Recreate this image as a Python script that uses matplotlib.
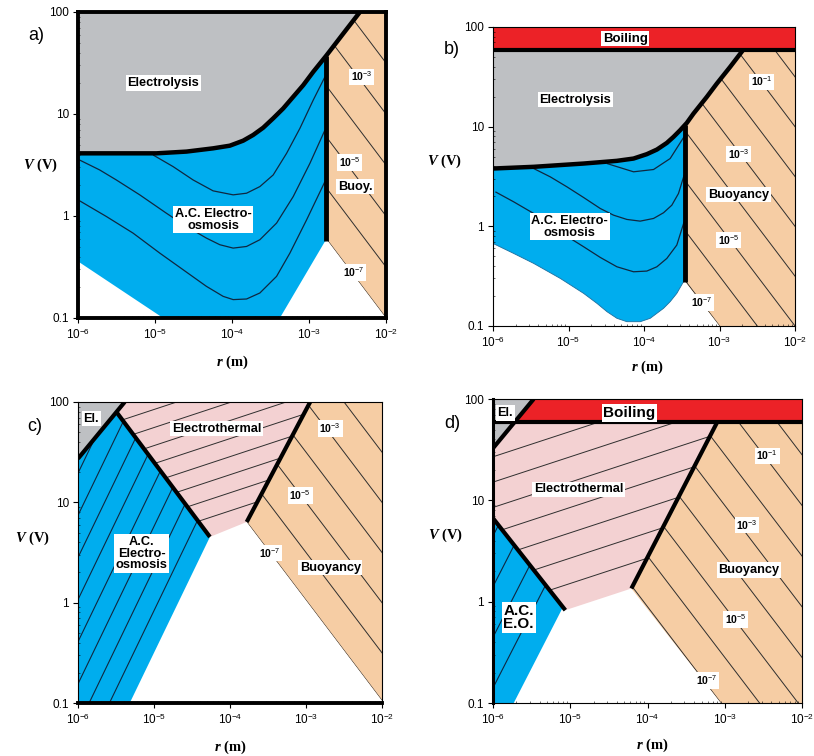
import numpy as np
import matplotlib
matplotlib.use('Agg')
import matplotlib.pyplot as plt
from matplotlib.patches import Polygon
from matplotlib.ticker import FixedLocator, LogLocator, NullFormatter

plt.rcParams['font.family'] = ['Liberation Sans', 'DejaVu Sans']
plt.rcParams['mathtext.fontset'] = 'custom'
plt.rcParams['mathtext.rm'] = 'Liberation Sans'
plt.rcParams['mathtext.it'] = 'Liberation Serif:italic:bold'
plt.rcParams['mathtext.bf'] = 'Liberation Sans:bold'

GRAY = '#BEC0C3'
BLUE = '#00ADEE'
PEACH = '#F6CDA4'
PINK = '#F3D1D2'
RED = '#EC2227'
HATCH = '#2e2e2e'
CONT = '#0f2740'

# ---------------- data: log10 r (m), log10 V (V) ----------------
x_ticks = [1e-6, 1e-5, 1e-4, 1e-3, 1e-2]
x_labels = ['$10^{-6}$', '$10^{-5}$', '$10^{-4}$', '$10^{-3}$', '$10^{-2}$']
y_ticks = [0.1, 1, 10, 100]
y_labels = ['0.1', '1', '10', '100']

# Panel a
a_elec_lr = [-6.0, -4.982, -4.592, -4.245, -4.028, -3.855, -3.725, -3.595, -3.465, -3.335,
             -3.205, -3.075, -2.945, -2.771, -2.555, -2.338]
a_elec_lv = [0.614, 0.614, 0.631, 0.663, 0.689, 0.738, 0.794, 0.865, 0.957, 1.054,
             1.168, 1.282, 1.413, 1.576, 1.788, 2.0]
a_vert_lr = -2.784
a_vert_lv_bottom = -0.25
a_lower_lr = [-6.0, -4.895, -3.378, -2.793]
a_lower_lv = [-0.445, -1.0, -1.0, -0.25]
a_buoy_c = [-3.0, -2.5, -2.0, -1.5, -1.0, -0.5]
a_k1_lr = [-5.025, -4.765, -4.505, -4.245, -3.985, -3.811, -3.638, -3.465, -3.291, -3.118, -2.945, -2.793]
a_k1_lv = [0.598, 0.484, 0.353, 0.246, 0.207, 0.223, 0.288, 0.402, 0.614, 0.859, 1.136, 1.364]
a_k2_lr = [-6.0, -5.718, -5.502, -5.198, -4.852, -4.592, -4.332, -4.158, -3.985, -3.811,
           -3.638, -3.421, -3.205, -2.988, -2.793]
a_k2_lv = [0.556, 0.451, 0.353, 0.207, 0.027, -0.103, -0.217, -0.282, -0.315, -0.299,
           -0.233, -0.070, 0.190, 0.516, 0.842]
a_k3_lr = [-6.0, -5.632, -5.285, -4.938, -4.635, -4.332, -4.115, -3.985, -3.811, -3.638,
           -3.421, -3.248, -3.031, -2.793]
a_k3_lv = [0.158, -0.005, -0.168, -0.364, -0.527, -0.690, -0.788, -0.820, -0.814, -0.755,
           -0.592, -0.364, -0.038, 0.337]

# Panel b
b_boil_lv = 1.773
b_elec_lr = [-6.0, -5.462, -4.80, -4.36, -4.139, -3.963, -3.830, -3.698, -3.61, -3.522,
             -3.433, -3.345, -3.169, -3.036, -2.860, -2.684]
b_elec_lv = [0.58, 0.597, 0.630, 0.657, 0.680, 0.724, 0.770, 0.837, 0.897, 0.964,
             1.038, 1.131, 1.298, 1.432, 1.599, 1.773]
b_vert_lr = -3.455
b_vert_lv_bottom = -0.556
b_lower_lr = [-6.0, -5.727, -5.462, -5.109, -4.80, -4.624, -4.49, -4.359, -4.227, -4.05,
              -3.918, -3.83, -3.742, -3.654, -3.566, -3.477]
b_lower_lv = [-0.172, -0.272, -0.372, -0.523, -0.673, -0.773, -0.857, -0.923, -0.957, -0.957,
              -0.923, -0.873, -0.823, -0.756, -0.673, -0.556]
b_buoy_c = [-4.0, -3.5, -3.0, -2.5, -2.0, -1.5, -1.0, -0.5]
b_k1_lr = [-4.492, -4.139, -3.874, -3.654, -3.469]
b_k1_lv = [0.630, 0.547, 0.570, 0.680, 0.900]
b_k2_lr = [-5.462, -5.241, -5.021, -4.80, -4.580, -4.404, -4.227, -4.051, -3.874, -3.742,
           -3.632, -3.544, -3.469]
b_k2_lv = [0.580, 0.496, 0.396, 0.289, 0.179, 0.112, 0.069, 0.052, 0.079, 0.136,
           0.212, 0.329, 0.513]
b_k3_lr = [-5.969, -5.727, -5.462, -5.153, -4.80, -4.580, -4.359, -4.139, -3.963, -3.830,
           -3.698, -3.566, -3.469]
b_k3_lv = [0.346, 0.246, 0.129, -0.038, -0.205, -0.312, -0.406, -0.456, -0.449, -0.406,
           -0.322, -0.188, 0.046]

# Panel c
c_el_line_lr = [-6.0, -5.385]
c_el_line_lv = [1.435, 2.0]
c_aceo_line_lr = [-5.494, -4.264]
c_aceo_line_lv = [1.9, 0.655]
c_aceo_edge_lr = -5.319          # blue lower-right edge at V = 0.1
c_et_line_lr = [-3.78, -2.945]
c_et_line_lv = [0.804, 2.0]
c_buoy_c = [-2.976, -2.5, -2.0, -1.5, -1.0, -0.5]
c_et_c = [1.915, 2.095, 2.275, 2.455, 2.635, 2.815, 2.995, 3.175, 3.355]
c_eo_c = [7.77, 8.19, 8.61, 9.03, 9.45, 9.87, 10.29, 10.71]

# Panel d
d_boil_lv = 1.769
d_el_line_lr = [-6.0, -5.474]
d_el_line_lv = [1.515, 2.0]
d_aceo_line_lr = [-6.0, -5.064]
d_aceo_line_lv = [0.823, -0.084]
d_eo_corner = (-5.095, -0.054)
d_eo_edge_lr = -5.732
d_et_line_lr = [-4.209, -3.1]
d_et_line_lv = [0.13, 1.769]
d_buoy_c = [-4.05, -3.55, -3.05, -2.55, -2.05, -1.55, -1.05, -0.55]
d_et_c = [1.43, 1.68, 1.93, 2.18, 2.43, 2.68, 2.93]
d_eo_c = [8.09, 8.59, 9.09, 9.59]


def P(lr, lv):
    return np.column_stack([10 ** np.asarray(lr, float), 10 ** np.asarray(lv, float)])


def fill(ax, lr, lv, color, z=1):
    p = Polygon(P(lr, lv), closed=True, facecolor=color, edgecolor='none', zorder=z)
    ax.add_patch(p)
    return p


def family(ax, patch, slope, intercepts, color=HATCH, lw=0.7):
    lr = np.array([-7.0, -1.0])
    for c in intercepts:
        ln, = ax.plot(10 ** lr, 10 ** (c + slope * lr), color=color, lw=lw, zorder=3)
        ln.set_clip_path(patch)


def curve(ax, lr, lv, color=CONT, lw=0.9, clip=None, z=3):
    ln, = ax.plot(10 ** np.asarray(lr), 10 ** np.asarray(lv), color=color, lw=lw, zorder=z,
                  solid_capstyle='butt', solid_joinstyle='round')
    if clip is not None:
        ln.set_clip_path(clip)
    return ln


def thick(ax, lr, lv, lw=3.0):
    curve(ax, lr, lv, color='black', lw=lw, z=5)


def label(ax, lr, lv, s, size=9.2, bold=True):
    ax.text(10 ** lr, 10 ** lv, s, ha='center', va='center', fontsize=size,
            fontweight='bold' if bold else 'normal', zorder=7, linespacing=0.95,
            bbox=dict(facecolor='white', edgecolor='none', pad=1.2))


def setup(ax, spine_lw):
    ax.set_xscale('log')
    ax.set_yscale('log')
    ax.set_xlim(1e-6, 1e-2)
    ax.set_ylim(0.1, 100)
    ax.xaxis.set_major_locator(FixedLocator(x_ticks))
    ax.yaxis.set_major_locator(FixedLocator(y_ticks))
    ax.set_xticklabels(x_labels)
    ax.set_yticklabels(y_labels)
    ax.xaxis.set_minor_locator(LogLocator(base=10, subs=np.arange(2, 10)))
    ax.yaxis.set_minor_locator(LogLocator(base=10, subs=np.arange(2, 10)))
    ax.xaxis.set_minor_formatter(NullFormatter())
    ax.yaxis.set_minor_formatter(NullFormatter())
    ax.tick_params(which='major', direction='out', length=3.5, width=0.8, labelsize=8.5, pad=3)
    ax.tick_params(which='minor', direction='in', length=1.5, width=0.4)
    for side, lw in spine_lw.items():
        ax.spines[side].set_linewidth(lw)
        ax.spines[side].set_zorder(6)


def axis_labels(ax, ylx, yly, xlx, xly):
    ax.text(ylx, yly, '$V$ (V)', transform=ax.transAxes, ha='center', va='center',
            fontsize=10.5, family='Liberation Serif', fontweight='bold')
    ax.text(xlx, xly, '$r$ (m)', transform=ax.transAxes, ha='center', va='center',
            fontsize=10.5, family='Liberation Serif', fontweight='bold')


fig = plt.figure(figsize=(8.14, 7.56), dpi=100)

# ======================= Panel a =======================
ax = fig.add_axes([0.0958, 0.5794, 0.3784, 0.4048])
setup(ax, {'left': 2.8, 'bottom': 2.8, 'right': 2.8, 'top': 2.8})
top_v = float(np.interp(a_vert_lr, a_elec_lr, a_elec_lv))
el_lr = np.array(a_elec_lr)
el_lv = np.array(a_elec_lv)
left_part = el_lr < a_vert_lr
blue_lr = [a_elec_lr[0]] + a_lower_lr + [a_vert_lr, a_vert_lr] + list(el_lr[left_part][::-1])
blue_lv = [a_elec_lv[0]] + a_lower_lv + [a_vert_lv_bottom, top_v] + list(el_lv[left_part][::-1])
pb = fill(ax, blue_lr, blue_lv, BLUE)
fill(ax, a_elec_lr + [-6.0], a_elec_lv + [2.0], GRAY)
edge_lv = a_buoy_c[0] - a_vert_lr
or_lr = [a_vert_lr, a_vert_lr] + list(el_lr[~left_part]) + [-2.0, -2.0]
or_lv = [edge_lv, top_v] + list(el_lv[~left_part]) + [2.0, a_buoy_c[0] + 2.0]
po = fill(ax, or_lr, or_lv, PEACH)
family(ax, po, -1.0, a_buoy_c)
for klr, klv in [(a_k1_lr, a_k1_lv), (a_k2_lr, a_k2_lv), (a_k3_lr, a_k3_lv)]:
    curve(ax, klr, klv, clip=pb)
thick(ax, a_elec_lr, a_elec_lv, lw=3.2)
thick(ax, [a_vert_lr, a_vert_lr], [a_vert_lv_bottom, top_v], lw=3.5)
label(ax, -4.895, 1.305, 'Electrolysis')
label(ax, -4.245, -0.038, 'A.C. Electro-\nosmosis')
label(ax, -2.316, 1.364, '10$^{-3}$', size=7.5)
label(ax, -2.468, 0.523, '10$^{-5}$', size=7.5)
label(ax, -2.403, 0.288, 'Buoy.')
label(ax, -2.425, -0.553, '10$^{-7}$', size=7.5)
axis_labels(ax, -0.123, 0.5, 0.5, -0.144)
fig.text(36 / 814, 1 - 36 / 756, 'a)', fontsize=13, ha='center', va='center')

# ======================= Panel b =======================
ax = fig.add_axes([0.6057, 0.5688, 0.3710, 0.3955])
setup(ax, {'left': 0.8, 'bottom': 0.8, 'right': 0.8, 'top': 0.8})
ax.axhspan(10 ** b_boil_lv, 100, facecolor=RED, edgecolor='none', zorder=1)
top_v = float(np.interp(b_vert_lr, b_elec_lr, b_elec_lv))
el_lr = np.array(b_elec_lr)
el_lv = np.array(b_elec_lv)
left_part = el_lr < b_vert_lr
blue_lr = [b_elec_lr[0]] + b_lower_lr + [b_vert_lr, b_vert_lr] + list(el_lr[left_part][::-1])
blue_lv = [b_elec_lv[0]] + b_lower_lv + [b_vert_lv_bottom, top_v] + list(el_lv[left_part][::-1])
pb = fill(ax, blue_lr, blue_lv, BLUE)
fill(ax, b_elec_lr + [-6.0], b_elec_lv + [b_boil_lv], GRAY)
or_lr = [b_vert_lr, b_vert_lr] + list(el_lr[~left_part]) + [-2.0, -2.0, b_buoy_c[0] + 1.0]
or_lv = [b_vert_lv_bottom, top_v] + list(el_lv[~left_part]) + [b_boil_lv, -1.0, -1.0]
po = fill(ax, or_lr, or_lv, PEACH)
family(ax, po, -1.0, b_buoy_c)
for klr, klv in [(b_k1_lr, b_k1_lv), (b_k2_lr, b_k2_lv), (b_k3_lr, b_k3_lv)]:
    curve(ax, klr, klv, clip=pb)
curve(ax, b_lower_lr, b_lower_lv, color='#1b6fa0', lw=0.6)
thick(ax, b_elec_lr, b_elec_lv, lw=3.2)
thick(ax, [-6.0, -2.0], [b_boil_lv, b_boil_lv], lw=3.0)
thick(ax, [b_vert_lr, b_vert_lr], [b_vert_lv_bottom, top_v], lw=3.5)
label(ax, -4.249, 1.883, 'Boiling', size=9.5)
label(ax, -4.911, 1.272, 'Electrolysis')
label(ax, -4.986, -0.005, 'A.C. Electro-\nosmosis')
label(ax, -2.441, 1.449, '10$^{-1}$', size=7.5)
label(ax, -2.750, 0.724, '10$^{-3}$', size=7.5)
label(ax, -2.750, 0.319, 'Buoyancy')
label(ax, -2.882, -0.138, '10$^{-5}$', size=7.5)
label(ax, -3.235, -0.766, '10$^{-7}$', size=7.5)
axis_labels(ax, -0.159, 0.552, 0.51, -0.137)
fig.text(452 / 814, 1 - 50 / 756, 'b)', fontsize=13, ha='center', va='center')

# ======================= Panel c =======================
ax = fig.add_axes([0.0958, 0.0701, 0.3735, 0.3982])
setup(ax, {'left': 0.8, 'bottom': 2.8, 'right': 0.8, 'top': 0.8})
fill(ax, [-6.0, c_el_line_lr[1], c_el_line_lr[0]], [2.0, 2.0, c_el_line_lv[0]], GRAY)
pb = fill(ax, [-6.0, c_aceo_line_lr[0], c_aceo_line_lr[1], c_aceo_edge_lr, -6.0],
          [c_el_line_lv[0], c_aceo_line_lv[0], c_aceo_line_lv[1], -1.0, -1.0], BLUE)
pp = fill(ax, [c_aceo_line_lr[0], c_el_line_lr[1], c_et_line_lr[1], c_et_line_lr[0], c_aceo_line_lr[1]],
          [c_aceo_line_lv[0], 2.0, 2.0, c_et_line_lv[0], c_aceo_line_lv[1]], PINK)
po = fill(ax, [c_et_line_lr[0], c_et_line_lr[1], -2.0, -2.0],
          [c_et_line_lv[0], 2.0, 2.0, c_buoy_c[0] + 2.0], PEACH)
family(ax, po, -1.0, c_buoy_c)
family(ax, pp, 0.25, c_et_c)
family(ax, pb, 1.57, c_eo_c, color=CONT, lw=0.8)
thick(ax, c_el_line_lr, c_el_line_lv)
thick(ax, c_aceo_line_lr, c_aceo_line_lv)
thick(ax, c_et_line_lr, c_et_line_lv)
label(ax, -5.824, 1.834, 'El.')
label(ax, -4.176, 1.734, 'Electrothermal')
label(ax, -2.681, 1.734, '10$^{-3}$', size=7.5)
label(ax, -3.077, 1.070, '10$^{-5}$', size=7.5)
label(ax, -5.165, 0.488, 'A.C.\nElectro-\nosmosis')
label(ax, -3.473, 0.495, '10$^{-7}$', size=7.5)
label(ax, -2.681, 0.349, 'Buoyancy')
axis_labels(ax, -0.151, 0.548, 0.5, -0.146)
fig.text(35 / 814, 1 - 427 / 756, 'c)', fontsize=13, ha='center', va='center')

# ======================= Panel d =======================
ax = fig.add_axes([0.6057, 0.0701, 0.3796, 0.4021])
setup(ax, {'left': 2.2, 'bottom': 0.8, 'right': 0.8, 'top': 0.8})
slope_el = (d_el_line_lv[1] - d_el_line_lv[0]) / (d_el_line_lr[1] - d_el_line_lr[0])
el_at_boil = d_el_line_lr[0] + (d_boil_lv - d_el_line_lv[0]) / slope_el
fill(ax, [-6.0, d_el_line_lr[1], d_el_line_lr[0]], [2.0, 2.0, d_el_line_lv[0]], GRAY)
fill(ax, [el_at_boil, d_el_line_lr[1], -2.0, -2.0], [d_boil_lv, 2.0, 2.0, d_boil_lv], RED)
pp = fill(ax, [el_at_boil, d_et_line_lr[1], d_et_line_lr[0], d_aceo_line_lr[1], -6.0, -6.0],
          [d_boil_lv, d_boil_lv, d_et_line_lv[0], d_aceo_line_lv[1], d_aceo_line_lv[0], d_el_line_lv[0]], PINK)
pb = fill(ax, [-6.0, d_eo_corner[0], d_eo_edge_lr, -6.0],
          [d_aceo_line_lv[0], d_eo_corner[1], -1.0, -1.0], BLUE)
po = fill(ax, [d_et_line_lr[0], d_et_line_lr[1], -2.0, -2.0, d_buoy_c[0] + 1.0],
          [d_et_line_lv[0], d_boil_lv, d_boil_lv, -1.0, -1.0], PEACH)
family(ax, po, -1.0, d_buoy_c)
family(ax, pp, 0.25, d_et_c)
family(ax, pb, 1.49, d_eo_c, color=CONT, lw=0.8)
thick(ax, [-6.0, -2.0], [d_boil_lv, d_boil_lv], lw=3.0)
thick(ax, d_el_line_lr, d_el_line_lv)
thick(ax, d_aceo_line_lr, d_aceo_line_lv)
thick(ax, d_et_line_lr, d_et_line_lv)
label(ax, -5.840, 1.862, 'El.')
label(ax, -4.235, 1.862, 'Boiling', size=11)
label(ax, -4.891, 1.110, 'Electrothermal')
label(ax, -2.453, 1.44, '10$^{-1}$', size=7.5)
label(ax, -2.712, 0.757, '10$^{-3}$', size=7.5)
label(ax, -2.690, 0.312, 'Buoyancy')
label(ax, -5.668, -0.156, 'A.C.\nE.O.', size=11)
label(ax, -2.863, -0.176, '10$^{-5}$', size=7.5)
label(ax, -3.230, -0.776, '10$^{-7}$', size=7.5)
axis_labels(ax, -0.155, 0.553, 0.515, -0.138)
fig.text(452 / 814, 1 - 423 / 756, 'd)', fontsize=13, ha='center', va='center')

fig.savefig('out.png', dpi=100)
